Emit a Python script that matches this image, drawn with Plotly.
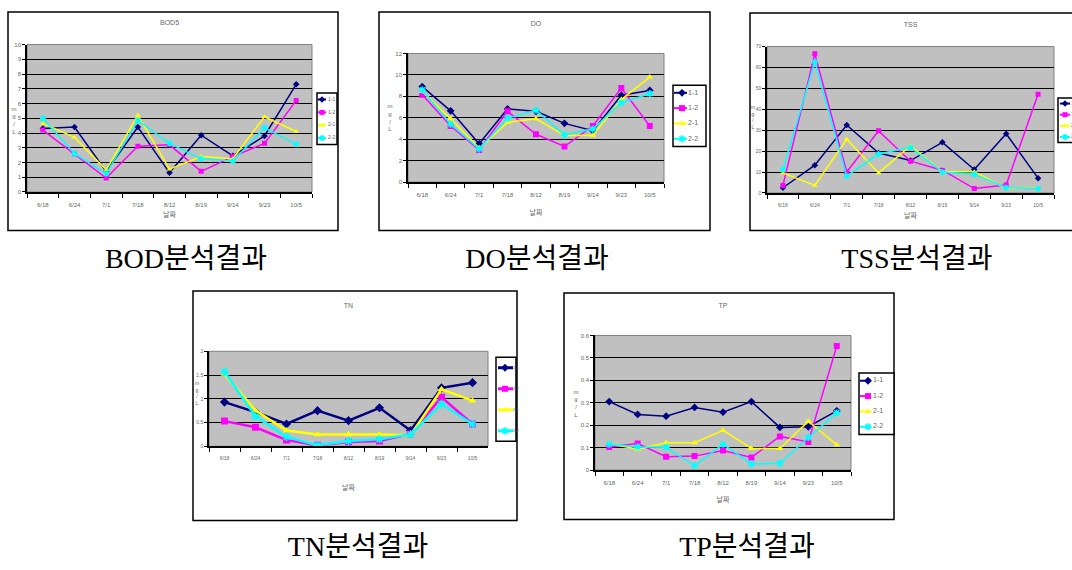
import plotly.graph_objects as go

dates = ["6/18", "6/24", "7/1", "7/18", "8/12", "8/19", "9/14", "9/23", "10/5"]
series_names = ["1-1", "1-2", "2-1", "2-2"]

bod_11 = [4.3, 4.4, 1.4, 4.4, 1.3, 3.85, 2.45, 3.8, 7.3]
bod_12 = [4.2, 2.6, 0.95, 3.1, 3.2, 1.4, 2.4, 3.3, 6.2]
bod_21 = [4.65, 3.7, 1.5, 5.2, 1.55, 2.4, 2.25, 5.1, 4.1]
bod_22 = [5.0, 2.6, 1.25, 4.85, 3.3, 2.25, 2.1, 4.35, 3.25]

do_11 = [8.9, 6.65, 3.57, 6.83, 6.6, 5.48, 4.8, 8.1, 8.55]
do_12 = [8.15, 5.23, 3.0, 6.6, 4.46, 3.32, 5.23, 8.77, 5.23]
do_21 = [8.46, 5.9, 3.17, 5.57, 5.9, 4.34, 4.34, 7.7, 9.8]
do_22 = [8.6, 5.4, 3.1, 5.97, 6.7, 4.4, 4.95, 7.4, 8.25]

tss_11 = [2.5, 13.3, 32.5, 19.1, 15.5, 24.2, 11.2, 28.3, 7.1]
tss_12 = [3.6, 66.5, 10.0, 29.7, 15.2, 10.9, 2.1, 3.8, 47.2]
tss_21 = [9.6, 3.6, 25.7, 9.6, 22.6, 10.1, 10.1, 2.2, 2.5]
tss_22 = [11.2, 62.6, 8.1, 18.6, 21.8, 10.0, 9.0, 2.5, 2.1]

tn_11 = [0.93, 0.72, 0.47, 0.75, 0.54, 0.81, 0.33, 1.23, 1.34]
tn_12 = [0.53, 0.40, 0.13, 0.02, 0.09, 0.11, 0.26, 1.03, 0.47]
tn_21 = [1.52, 0.75, 0.33, 0.25, 0.25, 0.25, 0.23, 1.2, 0.96]
tn_22 = [1.57, 0.63, 0.2, 0.02, 0.11, 0.15, 0.25, 0.89, 0.47]

tp_11 = [0.305, 0.248, 0.24, 0.279, 0.258, 0.305, 0.19, 0.193, 0.264]
tp_12 = [0.103, 0.118, 0.059, 0.062, 0.087, 0.056, 0.15, 0.125, 0.553]
tp_21 = [0.118, 0.093, 0.122, 0.122, 0.177, 0.096, 0.096, 0.218, 0.112]
tp_22 = [0.115, 0.103, 0.102, 0.019, 0.115, 0.027, 0.03, 0.145, 0.255]

colors = ["#000080", "#FF00FF", "#FFFF00", "#00FFFF"]
symbols = ["diamond", "square", "triangle-up", "asterisk"]

W, H = 1072, 570

# legend geometry: (left, top, width, height, line_start, line_end, marker_x, text_x) in px
charts = [
    dict(name="BOD5", caption="BOD분석결과", data=[bod_11, bod_12, bod_21, bod_22],
         box=(8, 9, 338, 230), plot=(27, 42, 312, 191),
         legend=(317, 91, 20, 52, 1, 9, 5, 11),
         ymax=10, dtick=1, titley=20, xtitley=215, ytitlex=14, ytitley=(105, 133),
         cap=(186, 261), lw=1.5, ms=5, legend_font=5, lms=5, tickfs=6),
    dict(name="DO", caption="DO분석결과", data=[do_11, do_12, do_21, do_22],
         box=(379, 9, 710, 230), plot=(408, 51, 664, 181),
         legend=(673, 83, 33, 62, 1, 14, 9, 15),
         ymax=12, dtick=2, titley=21, xtitley=212, ytitlex=390, ytitley=(98, 135),
         cap=(537, 261), lw=1.5, ms=6, legend_font=7, lms=6, tickfs=6),
    dict(name="TSS", caption="TSS분석결과", data=[tss_11, tss_12, tss_21, tss_22],
         box=(750, 10, 1085, 230), plot=(767, 44, 1054, 192),
         legend=(1058, 96, 30, 45, 2, 12, 7, 13),
         ymax=70, dtick=10, titley=22, xtitley=216, ytitlex=753, ytitley=(104, 128),
         cap=(917, 261), lw=1.5, ms=5, legend_font=6, lms=5, tickfs=5),
    dict(name="TN", caption="TN분석결과", data=[tn_11, tn_12, tn_21, tn_22],
         box=(193, 291, 517, 523), plot=(209, 352, 488, 448),
         legend=(496, 358, 20, 85, 2, 17, 9, 17),
         ymax=2, dtick=0.5, titley=306, xtitley=490, ytitlex=197, ytitley=(375, 415),
         cap=(358, 552), lw=2.5, ms=7, legend_font=4, lms=6, tickfs=5),
    dict(name="TP", caption="TP분석결과", data=[tp_11, tp_12, tp_21, tp_22],
         box=(564, 293, 894, 522), plot=(595, 336, 851, 472),
         legend=(859, 374, 35, 62, 1, 12, 9, 14),
         ymax=0.6, dtick=0.1, titley=306, xtitley=503, ytitlex=576, ytitley=(385, 425),
         cap=(747, 552), lw=1.5, ms=6, legend_font=7, lms=6, tickfs=6),
]

fig = go.Figure()
shapes = []
layout = dict()


def add_text(x, y, text, size, color="#666", family="Arial", pos="middle center"):
    fig.add_trace(go.Scatter(
        x=[x], y=[y], text=[text], mode="text", xaxis="x6", yaxis="y6",
        textposition=pos, showlegend=False, hoverinfo="skip",
        textfont=dict(size=size, color=color, family=family),
    ))


for i, c in enumerate(charts):
    k = "" if i == 0 else str(i + 1)
    xa, ya = "x" + k, "y" + k
    x0, y0, x1, y1 = c["plot"]
    for j, (vals, nm) in enumerate(zip(c["data"], series_names)):
        fig.add_trace(go.Scatter(
            x=dates, y=vals, name=nm, mode="lines+markers",
            xaxis=xa, yaxis=ya, showlegend=False,
            line=dict(color=colors[j], width=c["lw"]),
            marker=dict(color=colors[j], symbol=symbols[j], size=c["ms"],
                        line=dict(color=colors[j], width=1.5 if j == 3 else 0)),
        ))
    layout["xaxis" + k] = dict(
        domain=[x0 / W, x1 / W], anchor=ya, type="category", range=[-0.5, 8.5],
        tickson="boundaries", ticks="outside", ticklen=4, tickcolor="black",
        showline=True, linecolor="black", linewidth=1.5, showgrid=False,
        tickfont=dict(size=c["tickfs"], color="#666", family="Arial"), ticklabelstandoff=6,
        zeroline=False, fixedrange=True,
    )
    layout["yaxis" + k] = dict(
        domain=[1 - y1 / H, 1 - y0 / H], anchor=xa, range=[0, c["ymax"]], dtick=c["dtick"],
        ticks="outside", ticklen=3, tickcolor="black",
        showline=True, linecolor="black", linewidth=1.5,
        showgrid=True, gridcolor="black", gridwidth=1.2,
        tickfont=dict(size=c["tickfs"], color="#666", family="Arial"), zeroline=False,
        fixedrange=True,
    )
    bx0, by0, bx1, by1 = c["box"]
    shapes.append(dict(type="rect", xref="paper", yref="paper",
                       x0=bx0 / W, x1=bx1 / W, y0=1 - by1 / H, y1=1 - by0 / H,
                       line=dict(color="black", width=1.5), fillcolor="white", layer="below"))
    shapes.append(dict(type="rect", xref="paper", yref="paper",
                       x0=x0 / W, x1=x1 / W, y0=1 - y1 / H, y1=1 - y0 / H,
                       line=dict(color="#808080", width=1), fillcolor="#C0C0C0", layer="below"))
    add_text((x0 + x1) / 2, c["titley"], c["name"], 7)
    add_text((x0 + x1) / 2, c["xtitley"], "날짜", 7, family="Noto Sans CJK KR")
    ty0, ty1 = c["ytitley"]
    add_text(c["ytitlex"], (ty0 + ty1) / 2, "m<br>g<br>/<br>L", 5 if c["tickfs"] == 5 else 6)
    cx, cy = c["cap"]
    add_text(cx, cy, c["caption"], 28, color="black", family="Liberation Serif, Noto Sans CJK KR")
    # manual legend
    lx, ly, lw_, lh, ls, le, lm, lt = c["legend"]
    shapes.append(dict(type="rect", xref="paper", yref="paper",
                       x0=lx / W, x1=(lx + lw_) / W, y0=1 - (ly + lh) / H, y1=1 - ly / H,
                       line=dict(color="black", width=1.5), fillcolor="white", layer="below"))
    for j, nm in enumerate(series_names):
        yy = ly + lh * (j + 0.5) / 4
        shapes.append(dict(type="line", xref="paper", yref="paper",
                           x0=(lx + ls) / W, x1=(lx + le) / W, y0=1 - yy / H, y1=1 - yy / H,
                           line=dict(color=colors[j], width=c["lw"] + 0.5), layer="above"))
        add_text(lx + lt, yy, nm, c["legend_font"], pos="middle right")
        fig.add_trace(go.Scatter(
            x=[lx + lm], y=[yy], mode="markers", xaxis="x6", yaxis="y6",
            showlegend=False, hoverinfo="skip",
            marker=dict(color=colors[j], symbol=symbols[j], size=c["lms"],
                        line=dict(color=colors[j], width=1.5 if j == 3 else 0)),
        ))

layout["xaxis6"] = dict(domain=[0, 1], range=[0, W], visible=False, anchor="y6", fixedrange=True)
layout["yaxis6"] = dict(domain=[0, 1], range=[H, 0], visible=False, anchor="x6", fixedrange=True)

fig.update_layout(
    width=W, height=H, margin=dict(l=0, r=0, t=0, b=0),
    paper_bgcolor="white", plot_bgcolor="rgba(0,0,0,0)",
    shapes=shapes, showlegend=False,
    **layout,
)

fig.write_html("out.html", config={"displayModeBar": False},
               post_script="document.body.style.margin='0';document.body.style.overflow='hidden';")
